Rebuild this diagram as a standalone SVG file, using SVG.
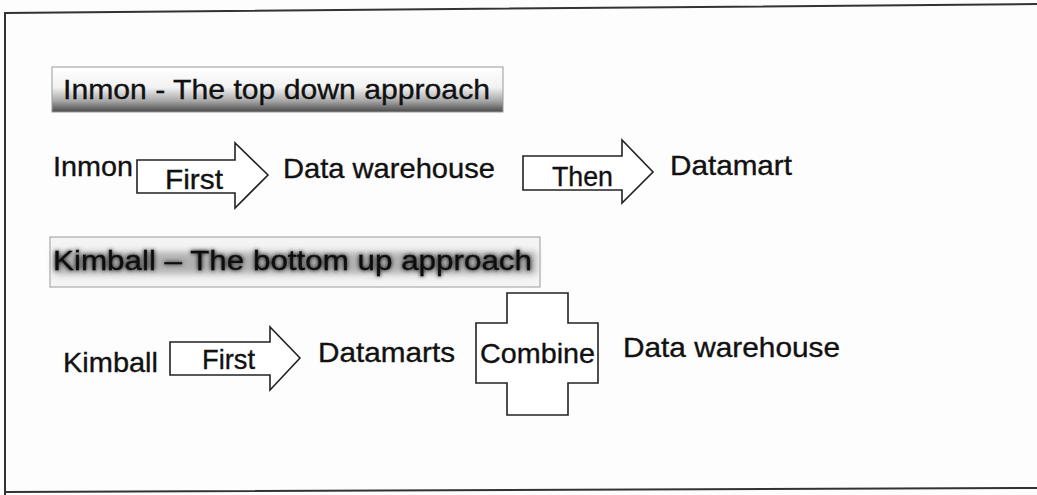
<svg xmlns="http://www.w3.org/2000/svg" width="1037" height="495" viewBox="0 0 1037 495">
  <defs>
    <linearGradient id="bannerTop" x1="0" y1="0" x2="0" y2="1">
      <stop offset="0" stop-color="#ffffff"/>
      <stop offset="0.45" stop-color="#f2f2f2"/>
      <stop offset="0.75" stop-color="#a8a8a8"/>
      <stop offset="1" stop-color="#4a4a4a"/>
    </linearGradient>
    <filter id="glow" x="-5%" y="-40%" width="110%" height="180%">
      <feGaussianBlur stdDeviation="3.5"/>
    </filter>
    <filter id="halo" x="-5%" y="-40%" width="110%" height="180%">
      <feGaussianBlur stdDeviation="2.2"/>
    </filter>
    <filter id="soft" x="-5%" y="-20%" width="110%" height="140%">
      <feGaussianBlur stdDeviation="0.5"/>
    </filter>
  </defs>
  <style>
    .t { font-family: "Liberation Sans", Arial, Helvetica, sans-serif; fill: #111; stroke: #111; stroke-width: 0.35; font-size: 28px; }
    .shape { fill: #ffffff; stroke: #222; stroke-width: 1.6; stroke-linejoin: miter; }
    .frame { fill: none; stroke: #333; stroke-width: 2; }
  </style>

  <rect width="1037" height="495" fill="#fdfdfd"/>

  <!-- outer frame -->
  <path class="frame" d="M5,495 L5,13 L1037,4 M5,492 L1037,488"/>

  <!-- heading: top down -->
  <g id="heading-inmon">
    <rect x="52" y="67" width="451" height="45" fill="url(#bannerTop)" stroke="#999" stroke-width="1"/>
    <text class="t" x="63" y="99" textLength="427" lengthAdjust="spacingAndGlyphs">Inmon - The top down approach</text>
  </g>

  <!-- heading: bottom up, dark halo behind the title -->
  <g id="heading-kimball">
    <rect x="50" y="237" width="490" height="50" fill="#f4f4f4" stroke="#aaa" stroke-width="1.2"/>
    <rect x="54" y="252" width="482" height="22" fill="#b0b0b0" filter="url(#glow)"/>
    <text class="t" x="53" y="270" textLength="479" lengthAdjust="spacingAndGlyphs" fill="#444" stroke="#444" stroke-width="4" filter="url(#halo)">Kimball – The bottom up approach</text>
    <text class="t" x="53" y="270" textLength="479" lengthAdjust="spacingAndGlyphs" stroke-width="0.9" filter="url(#soft)">Kimball – The bottom up approach</text>
  </g>

  <!-- row 1 labels -->
  <g id="inmon">
    <text class="t" x="53" y="176" textLength="80" lengthAdjust="spacingAndGlyphs">Inmon</text>
  </g>
  <g id="data-warehouse-1">
    <text class="t" x="283" y="178" textLength="212" lengthAdjust="spacingAndGlyphs">Data warehouse</text>
  </g>
  <g id="datamart">
    <text class="t" x="670" y="175" textLength="122" lengthAdjust="spacingAndGlyphs">Datamart</text>
  </g>

  <!-- row 2 labels -->
  <g id="kimball">
    <text class="t" x="63" y="372" textLength="95" lengthAdjust="spacingAndGlyphs">Kimball</text>
  </g>
  <g id="datamarts">
    <text class="t" x="318" y="362" textLength="137" lengthAdjust="spacingAndGlyphs">Datamarts</text>
  </g>
  <g id="combine">
    <path class="shape" d="M507,293 H568 V323 H598 V383 H568 V415 H507 V383 H476 V323 H507 Z"/>
    <text class="t" x="480" y="363" textLength="115" lengthAdjust="spacingAndGlyphs">Combine</text>
  </g>
  <g id="data-warehouse-2">
    <text class="t" x="623" y="357" textLength="217" lengthAdjust="spacingAndGlyphs">Data warehouse</text>
  </g>

  <!-- block arrows -->
  <g id="connectors">
    <g id="arrow-inmon-first">
      <path class="shape" d="M137,160 H235 V143 L268,175 L235,208 V193 H137 Z"/>
      <text class="t" x="165" y="189" textLength="58" lengthAdjust="spacingAndGlyphs">First</text>
    </g>
    <g id="arrow-then">
      <path class="shape" d="M523,156 H622 V140 L653,172 L622,203 V190 H523 Z"/>
      <text class="t" x="552" y="186" textLength="61" lengthAdjust="spacingAndGlyphs">Then</text>
    </g>
    <g id="arrow-kimball-first">
      <path class="shape" d="M170,342 H270 V327 L300,358 L270,390 V375 H170 Z"/>
      <text class="t" x="202" y="369" textLength="53" lengthAdjust="spacingAndGlyphs">First</text>
    </g>
  </g>
</svg>
